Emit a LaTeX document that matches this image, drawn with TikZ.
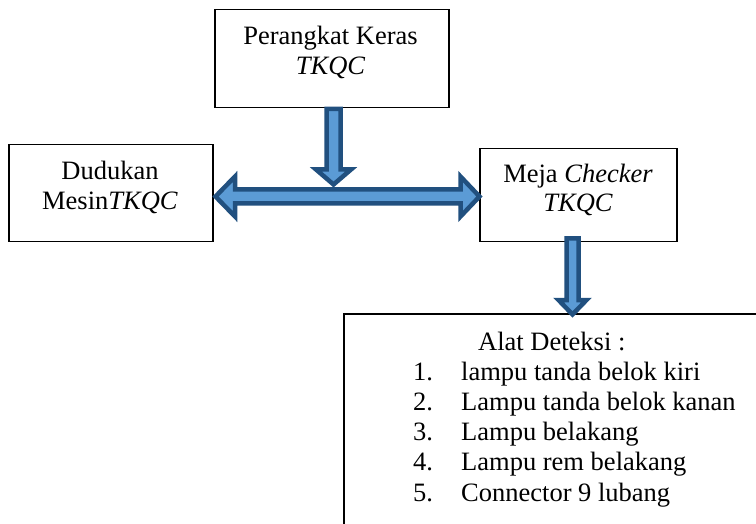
\documentclass[tikz,border=0pt]{standalone}
\usepackage{fontspec}
\setmainfont{Liberation Serif}
\begin{document}
\begin{tikzpicture}[x=1pt,y=-1pt,
  box/.style={draw=black,line width=1.5pt,inner sep=0pt,anchor=north west},
  txt/.style={inner sep=0pt,anchor=base,font=\fontsize{26.5}{30}\selectfont},
  ltxt/.style={inner sep=0pt,anchor=base west,font=\fontsize{26.5}{30}\selectfont},
  blockarrow/.style={fill=arrowfill,draw=arrowline,line width=4.5pt,line join=miter}]
\definecolor{arrowfill}{HTML}{5B9BD5}
\definecolor{arrowline}{HTML}{21507F}
\useasboundingbox (0,0) rectangle (756,524);
% boxes
\node[box,minimum width=234pt,minimum height=98pt] (hw) at (214,9) {};
\node[box,minimum width=204pt,minimum height=97pt] (dm) at (8,144) {};
\node[box,minimum width=197pt,minimum height=93pt] (mc) at (479,148) {};
\coordinate (ad) at (344,314);
\draw[line width=1.5pt] (756,314) -- (ad) -- (344,524);
% texts
\node[txt] (hw1) at (330.5,45) {Perangkat Keras};
\node[txt] (hw2) at (330.5,75) {\itshape TKQC};
\node[txt] (dm1) at (110,180) {Dudukan};
\node[txt] (dm2) at (110,210) {Mesin\textit{TKQC}};
\node[txt] (mc1) at (578,183) {Meja \textit{Checker}};
\node[txt] (mc2) at (578,212) {\itshape TKQC};
\node[ltxt] (ad0) at (478,350) {Alat Deteksi :};
\foreach \n/\t [count=\i] in {1/lampu tanda belok kiri,2/Lampu tanda belok kanan,3/Lampu belakang,4/Lampu rem belakang,5/Connector 9 lubang}{
  \node[ltxt] (num\i) at (413,350+30.2*\i) {\n.};
  \node[ltxt] (item\i) at (461,350+30.2*\i) {\t};
}
% block arrows
\draw[blockarrow] (326.5,109) -- (340.5,109) -- (340.5,169.5) -- (351,169.5) -- (333.5,184.5) -- (316,169.5) -- (326.5,169.5) -- cycle;
\draw[blockarrow] (215.5,196.5) -- (235,176.5) -- (235,189.5) -- (460.5,189.5) -- (460.5,176.5) -- (479.5,196.5) -- (460.5,216.5) -- (460.5,203.5) -- (235,203.5) -- (235,216.5) -- cycle;
\draw[blockarrow] (566.5,238.5) -- (578.5,238.5) -- (578.5,300) -- (586.5,300) -- (572.5,314.5) -- (558.5,300) -- (566.5,300) -- cycle;
\end{tikzpicture}
\end{document}
